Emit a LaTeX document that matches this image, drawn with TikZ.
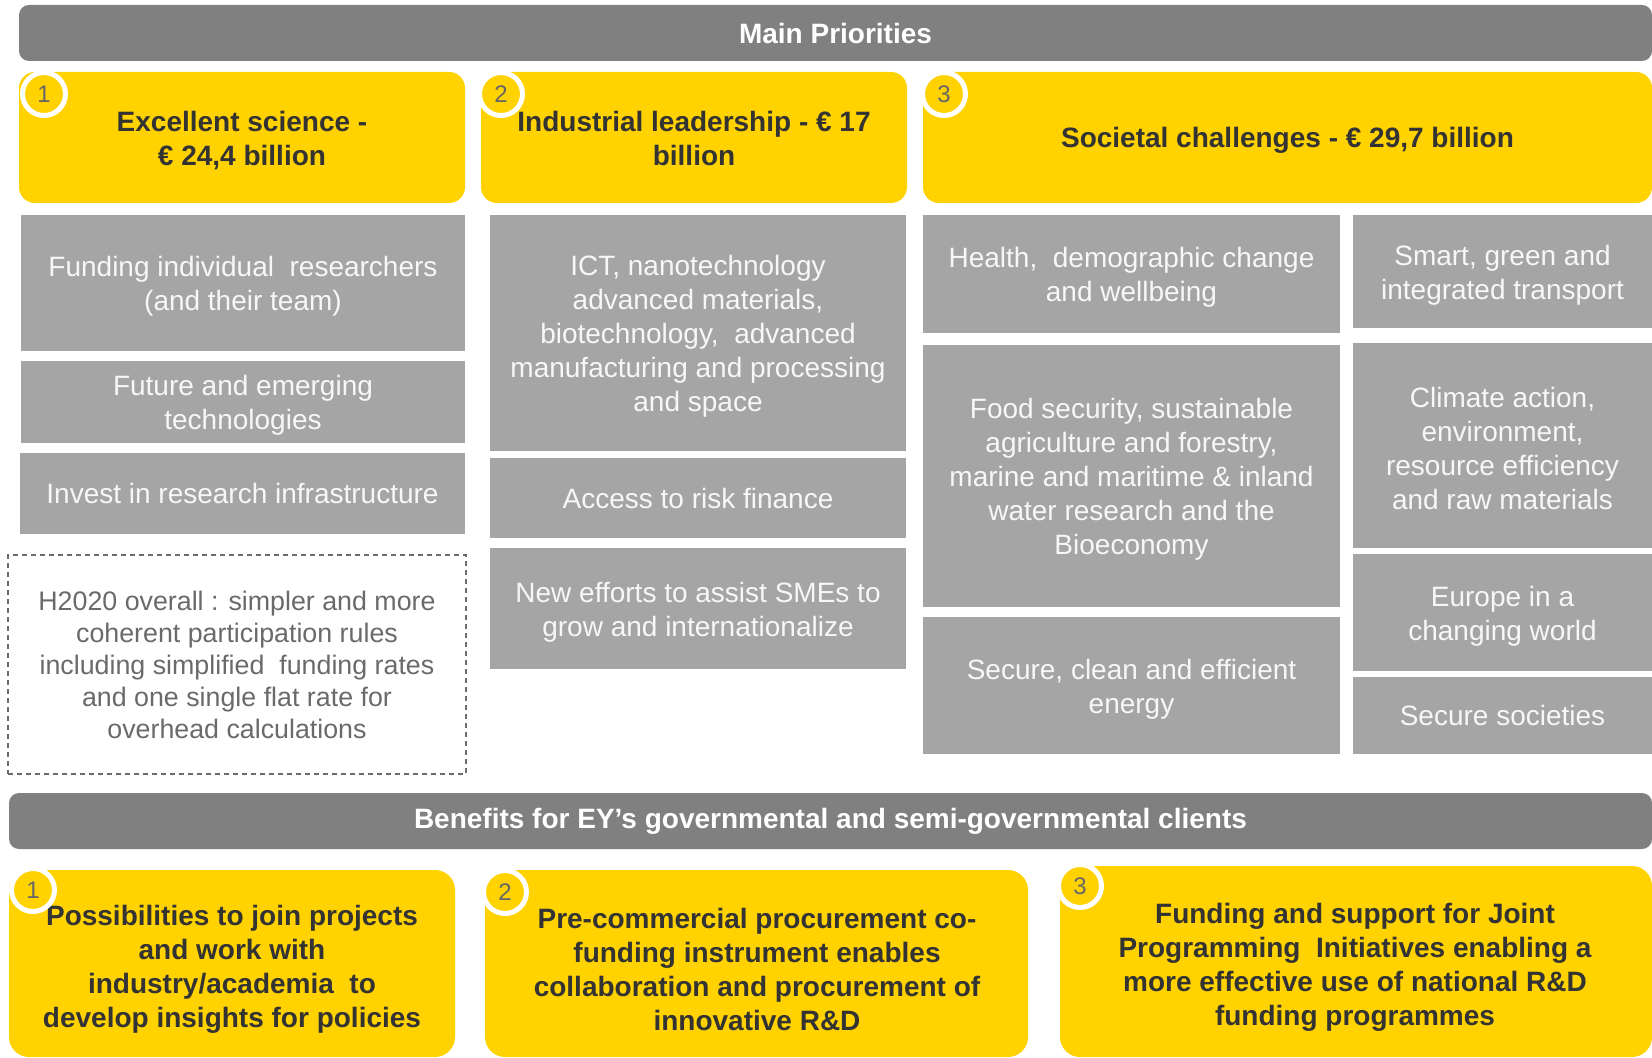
\documentclass[tikz,border=0pt]{standalone}
\usepackage{fontspec}
\setmainfont{Liberation Sans}
\usetikzlibrary{fit}
\definecolor{eyyellow}{HTML}{FFD200}
\definecolor{bargray}{HTML}{808080}
\definecolor{boxgray}{HTML}{A5A5A5}
\definecolor{darktext}{HTML}{333333}
\definecolor{numgray}{HTML}{666666}
\definecolor{lighttext}{HTML}{F7F7F7}
\definecolor{notegray}{HTML}{6A6A6A}
\begin{document}
\begin{tikzpicture}[x=0.5pt,y=-0.5pt,
  bar/.style={fill=bargray, rounded corners=5pt, inner sep=0pt},
  bartext/.style={text=white, font=\bfseries\fontsize{14}{17}\selectfont},
  ybox/.style={fill=eyyellow, rounded corners=8pt, inner sep=0pt},
  ytext/.style={align=center, text=darktext, font=\bfseries\fontsize{14}{17}\selectfont},
  gbox/.style={fill=boxgray, inner sep=0pt},
  gtext/.style={align=center, text=lighttext, font=\fontsize{14}{17}\selectfont},
  ml/.style={yshift=-1.7pt},
  note/.style={draw=notegray, dash pattern=on 2.5pt off 2pt, line width=0.6pt, inner sep=0pt},
  notetext/.style={align=center, text=notegray, font=\fontsize{13.4}{16}\selectfont},
  num/.style={circle, fill=eyyellow, draw=white, line width=2.5pt, minimum size=21.5pt, inner sep=0pt, text=numgray, font=\fontsize{12}{14}\selectfont}]
\useasboundingbox (0,0) rectangle (1652,1058);
% top bar
\node[bar, fit={(19,5) (1652,61)}] (mainbar) {};
\node[bartext] (maintitle) at (mainbar.center) {Main Priorities};
% yellow headers
\node[ybox, fit={(19,72) (465,203)}] (h1) {};
\node[ybox, fit={(481,72) (907,203)}] (h2) {};
\node[ybox, fit={(923,72) (1652,203)}] (h3) {};
\node[ytext, ml] (h1t) at (h1.center) {Excellent science -\\€ 24,4 billion};
\node[ytext, yshift=-0.6pt] (h2t) at (h2.center) {Industrial leadership - € 17\\billion};
\node[ytext, yshift=-1.5pt] (h3t) at (h3.center) {Societal challenges - € 29,7 billion};
\node[num] (n1) at (44,94) {1};
\node[num] (n2) at (501,94) {2};
\node[num] (n3) at (944,94) {3};
% column 1
\node[gbox, fit={(21,215) (465,351)}] (a1) {};
\node[gtext, ml] (a1t) at (a1.center) {Funding individual\ \ researchers\\(and their team)};
\node[gbox, fit={(21,361) (465,443)}] (a2) {};
\node[gtext, ml] (a2t) at (a2.center) {Future and emerging\\technologies};
\node[gbox, fit={(20,453) (465,534)}] (a3) {};
\node[gtext] (a3t) at (a3.center) {Invest in research infrastructure};
\node[note, fit={(8,555) (466,774)}] (note) {};
\node[notetext] (notet) at (note.center) {H2020 overall : simpler and more\\coherent participation rules\\including simplified\ \ funding rates\\and one single flat rate for\\overhead calculations};
% column 2
\node[gbox, fit={(490,215) (906,451)}] (b1) {};
\node[gtext, ml] (b1t) at (b1.center) {ICT, nanotechnology\\advanced materials,\\biotechnology,\ \ advanced\\manufacturing and processing\\and space};
\node[gbox, fit={(490,458) (906,538)}] (b2) {};
\node[gtext] (b2t) at (b2.center) {Access to risk finance};
\node[gbox, fit={(490,548) (906,669)}] (b3) {};
\node[gtext, ml] (b3t) at (b3.center) {New efforts to assist SMEs to\\grow and internationalize};
% column 3a
\node[gbox, fit={(923,215) (1340,333)}] (c1) {};
\node[gtext, ml] (c1t) at (c1.center) {Health,\ \ demographic change\\and wellbeing};
\node[gbox, fit={(923,345) (1340,607)}] (c2) {};
\node[gtext, ml] (c2t) at (c2.center) {Food security, sustainable\\agriculture and forestry,\\marine and maritime \& inland\\water research and the\\Bioeconomy};
\node[gbox, fit={(923,617) (1340,754)}] (c3) {};
\node[gtext, ml] (c3t) at (c3.center) {Secure, clean and efficient\\energy};
% column 3b
\node[gbox, fit={(1353,215) (1652,328)}] (d1) {};
\node[gtext, ml] (d1t) at (d1.center) {Smart, green and\\integrated transport};
\node[gbox, fit={(1353,343) (1652,548)}] (d2) {};
\node[gtext, ml] (d2t) at (d2.center) {Climate action,\\environment,\\resource efficiency\\and raw materials};
\node[gbox, fit={(1353,554) (1652,671)}] (d3) {};
\node[gtext, ml] (d3t) at (d3.center) {Europe in a\\changing world};
\node[gbox, fit={(1353,677) (1652,754)}] (d4) {};
\node[gtext] (d4t) at (d4.center) {Secure societies};
% benefits bar
\node[bar, fit={(9,793) (1652,849)}] (benbar) {};
\node[bartext] (bentitle) at (benbar.center) {Benefits for EY’s governmental and semi-governmental clients};
% bottom yellow boxes
\node[ybox, rounded corners=10pt, fit={(9,870) (455,1057)}] (e1) {};
\node[ybox, rounded corners=10pt, fit={(485,870) (1028,1057)}] (e2) {};
\node[ybox, rounded corners=10pt, fit={(1060,866) (1652,1057)}] (e3) {};
\node[ytext, ml] (e1t) at (232,966) {Possibilities to join projects\\and work with\\industry/academia\ \ to\\develop insights for policies};
\node[ytext, ml] (e2t) at (757,966) {Pre-commercial procurement co-\\funding instrument enables\\collaboration and procurement of\\innovative R\&D};
\node[ytext, ml] (e3t) at (1355,964) {Funding and support for Joint\\Programming\ \ Initiatives enabling a\\more effective use of national R\&D\\funding programmes};
\node[num] (m1) at (33,890) {1};
\node[num] (m2) at (505,892) {2};
\node[num] (m3) at (1080,886) {3};
\end{tikzpicture}
\end{document}
